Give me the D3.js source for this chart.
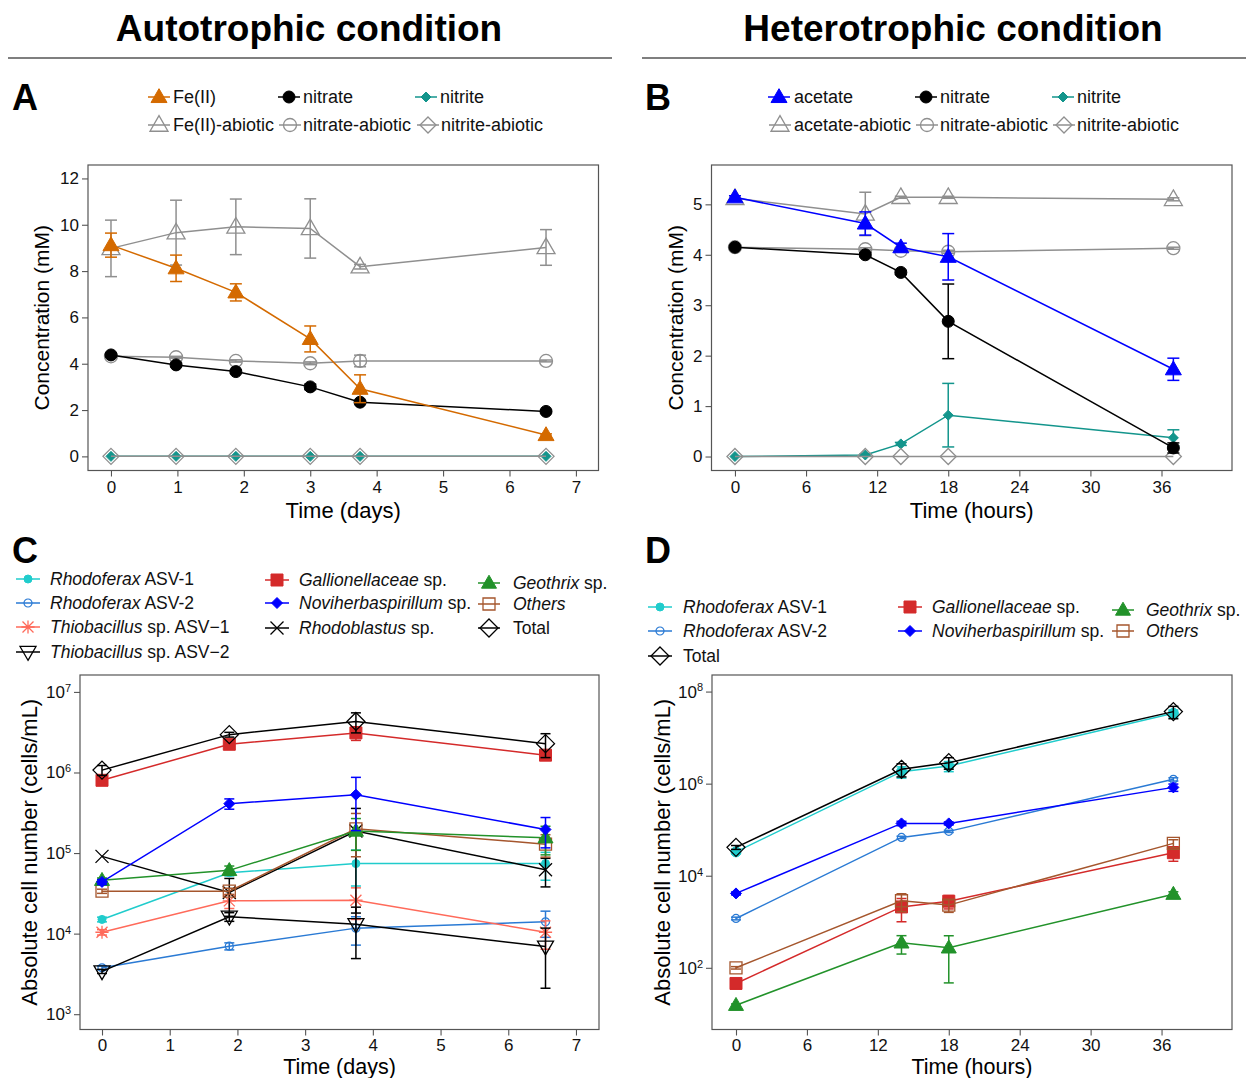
<!DOCTYPE html>
<html><head><meta charset="utf-8">
<script src="https://cdn.jsdelivr.net/npm/d3@7"></script>
<style>body{margin:0;background:#fff} text{font-family:"Liberation Sans",Arial,sans-serif}</style>
</head><body><svg id="c" width="1250" height="1078"></svg>
<script>
// ---------------- DATA ----------------
// Panel A (autotrophic, days)
const timeA = [0, 0.98, 1.88, 3.0, 3.75, 6.55];
const feII = [9.12, 8.12, 7.08, 5.07, 2.92, 0.92];
const feIISD = [0.52, 0.57, 0.37, 0.56, 0.6, 0.05];
const feIIAbiotic = [8.98, 9.66, 9.91, 9.84, 8.19, 9.02];
const feIIAbioticSD = [1.22, 1.4, 1.2, 1.28, 0.1, 0.77];
const nitrateA = [4.38, 3.95, 3.66, 3.0, 2.34, 1.94];
const nitrateASD = [0.08, 0.08, 0.07, 0.12, 0.06, 0.06];
const nitrateAAbiotic = [4.32, 4.28, 4.12, 4.02, 4.12, 4.12];
const nitrateAAbioticSD = [0.05, 0.04, 0.05, 0.06, 0.25, 0.04];
const nitriteA = [0, 0, 0, 0, 0, 0];
const nitriteAAbiotic = [0, 0, 0, 0, 0, 0];

// Panel B (heterotrophic, hours)
const timeB = [0, 11, 14, 18, 37];
const acetate = [5.14, 4.62, 4.15, 3.96, 1.73];
const acetateSD = [0.03, 0.23, 0.08, 0.46, 0.22];
const acetateAbiotic = [5.12, 4.81, 5.14, 5.14, 5.10];
const acetateAbioticSD = [0.02, 0.43, 0.02, 0.02, 0.03];
const nitrateB = [4.15, 4.0, 3.65, 2.68, 0.17];
const nitrateBSD = [0.03, 0.04, 0.04, 0.74, 0.1];
const nitrateBAbiotic = [4.15, 4.11, 4.08, 4.06, 4.13];
const nitrateBAbioticSD = [0.02, 0.03, 0.03, 0.03, 0.02];
const nitriteB = [0, 0.03, 0.25, 0.82, 0.37];
const nitriteBSD = [0, 0.02, 0.03, 0.63, 0.16];
const nitriteBAbiotic = [0, 0, 0, 0, 0];

// Panel C (autotrophic cell numbers, days)
const timeC = [0, 1.88, 3.75, 6.55];
const rhodoferax1C = [1.5e4, 5.7e4, 7.4e4, 7.4e4];
const rhodoferax1CSD = [1e3, 5e3, 3.5e4, 2.8e4];
const rhodoferax2C = [3.76e3, 6.98e3, 1.17e4, 1.4e4];
const rhodoferax2CSD = [2e2, 7e2, 4.5e3, 5e3];
const thiobacillus1C = [1.04e4, 2.55e4, 2.6e4, 1.04e4];
const thiobacillus1CSD = [8e2, 5e3, 1.1e4, 4e3];
const thiobacillus2C = [3.4e3, 1.62e4, 1.31e4, 6.9e3];
const thiobacillus2CSD = [2e2, 2e3, 8.2e3, 4.8e3];
const gallionellaceaeC = [8.0e5, 2.24e6, 3.1e6, 1.64e6];
const gallionellaceaeCSD = [5e4, 1.5e5, 6e5, 2e5];
const noviherbaspirillumC = [4.38e4, 4.1e5, 5.3e5, 1.96e5];
const noviherbaspirillumCSD = [3e3, 6e4, 3.4e5, 8e4];
const rhodoblastusC = [9.1e4, 3.24e4, 1.88e5, 6.2e4];
const rhodoblastusCSD = [0, 1.6e4, 1.7e5, 2.4e4];
const geothrixC = [4.6e4, 6.1e4, 1.88e5, 1.55e5];
const geothrixCSD = [3e3, 8e3, 8e4, 6e4];
const othersC = [3.36e4, 3.36e4, 2.0e5, 1.29e5];
const othersCSD = [2e3, 3e3, 1.1e5, 4e4];
const totalC = [1.07e6, 2.95e6, 4.3e6, 2.28e6];
const totalCSD = [1.5e5, 2e5, 1.2e6, 7.5e5];

// Panel D (heterotrophic cell numbers, hours)
const timeD = [0, 14, 18, 37];
const rhodoferax1D = [3.3e4, 1.82e6, 2.42e6, 3.38e7];
const rhodoferax1DSD = [3e3, 5e5, 6e5, 6e6];
const rhodoferax2D = [1.18e3, 6.8e4, 9.2e4, 1.24e6];
const rhodoferax2DSD = [80, 4e3, 5e3, 1e5];
const gallionellaceaeD = [45.7, 2.1e3, 2.8e3, 3.16e4];
const gallionellaceaeDSD = [4, 1.1e3, 9e2, 1.1e4];
const noviherbaspirillumD = [4.13e3, 1.37e5, 1.37e5, 8.3e5];
const noviherbaspirillumDSD = [3e2, 1.5e4, 1e4, 1.5e5];
const geothrixD = [15.4, 349, 272, 3.98e3];
const geothrixDSD = [1, 150, 225, 5e2];
const othersD = [100, 2.86e3, 2.3e3, 5.05e4];
const othersDSD = [6, 1.2e3, 7e2, 1e4];
const totalD = [4.13e4, 2.05e6, 2.86e6, 3.67e7];
const totalDSD = [4e3, 6.5e5, 8e5, 1.1e7];

// ticks
const ticksDays = [0, 1, 2, 3, 4, 5, 6, 7];
const ticksHours = [0, 6, 12, 18, 24, 30, 36];
const ticksConcA = [0, 2, 4, 6, 8, 10, 12];
const ticksConcB = [0, 1, 2, 3, 4, 5];
const ticksLogC = [1e3, 1e4, 1e5, 1e6, 1e7];
const ticksLogD = [1e2, 1e4, 1e6, 1e8];

// ---------------- STYLE ----------------
const GREY = '#8f8f8f', ORANGE = '#D46A00', TEAL = '#13958C', BLUE = '#0000FF';
const C_CYAN = '#20CCCC', C_BLUE2 = '#2A7AD4', C_SALMON = '#FF6A5A', C_RED = '#D42A2A',
      C_GREEN = '#22922A', C_BROWN = '#A5562D', BLACK = '#000';

const svg = d3.select('#c');
svg.append('rect').attr('width', 1250).attr('height', 1078).attr('fill', '#fff');

function shapePath(shape, r) {
  const h = r * Math.sqrt(3);
  switch (shape) {
    case 'circle': return `M${r},0A${r},${r} 0 1,1 ${-r},0A${r},${r} 0 1,1 ${r},0Z`;
    case 'square': return `M${-r},${-r}H${r}V${r}H${-r}Z`;
    case 'triUp': return `M0,${-h * 0.6}L${r},${h * 0.4}L${-r},${h * 0.4}Z`;
    case 'triDown': return `M0,${h * 0.6}L${r},${-h * 0.4}L${-r},${-h * 0.4}Z`;
    case 'diamond': return `M0,${-r}L${r},0L0,${r}L${-r},0Z`;
    case 'cross': return `M${-r},${-r}L${r},${r}M${-r},${r}L${r},${-r}`;
    case 'asterisk': return `M${-r},${-r}L${r},${r}M${-r},${r}L${r},${-r}M0,${-r * 1.2}V${r * 1.2}M${-r * 1.2},0H${r * 1.2}`;
  }
}
function drawMarker(g, cx, cy, st) {
  const p = g.append('path').attr('d', shapePath(st.shape, st.r))
    .attr('transform', `translate(${cx},${cy})`);
  if (st.fill) p.attr('fill', st.color).attr('stroke', st.color).attr('stroke-width', 1);
  else p.attr('fill', 'none').attr('stroke', st.color).attr('stroke-width', st.sw || 1.3);
}

function panel(o) {
  const x = d3.scaleLinear().domain(o.xdom).range([o.L, o.R]);
  const y = (o.log ? d3.scaleLog() : d3.scaleLinear()).domain(o.ydom).range([o.B, o.T]);
  const g = svg.append('g');
  // axes
  const xa = g.append('g').attr('transform', `translate(0,${o.B})`)
    .call(d3.axisBottom(x).tickValues(o.xticks).tickSize(6).tickSizeOuter(0).tickPadding(o.xpad));
  const ya = g.append('g').attr('transform', `translate(${o.L},0)`)
    .call(d3.axisLeft(y).tickValues(o.yticks).tickSize(6).tickSizeOuter(0).tickPadding(3)
      .tickFormat(o.log ? (() => '') : d3.format('d')));
  [xa, ya].forEach(a => {
    a.select('.domain').remove();
    a.selectAll('.tick line').attr('stroke', '#555').attr('stroke-width', 1.1);
    a.selectAll('.tick text').attr('font-size', 17).attr('fill', '#111')
      .style('font-family', '"Liberation Sans",Arial,sans-serif');
  });
  if (o.log) {
    ya.selectAll('.tick text').each(function (d) {
      const t = d3.select(this);
      t.append('tspan').text('10');
      t.append('tspan').attr('dy', '-0.55em').attr('font-size', 11).text(Math.round(Math.log10(d)));
    });
  }
  // box
  g.append('rect').attr('x', o.L).attr('y', o.T).attr('width', o.R - o.L).attr('height', o.B - o.T)
    .attr('fill', 'none').attr('stroke', '#555').attr('stroke-width', 1.2);
  // axis titles
  g.append('text').attr('x', (o.L + o.R) / 2).attr('y', o.xlabY).attr('text-anchor', 'middle')
    .attr('font-size', o.xlabSize).text(o.xlabel);
  g.append('text').attr('transform', `translate(${o.ylabX},${(o.T + o.B) / 2}) rotate(-90)`)
    .attr('text-anchor', 'middle').attr('font-size', o.ylabSize).text(o.ylabel);
  // series
  const capW = o.cap;
  o.series.forEach(st => {
    const xs = o.time;
    g.append('path').datum(st.y)
      .attr('d', d3.line().x((d, i) => x(xs[i])).y(d => y(d)))
      .attr('fill', 'none').attr('stroke', st.color).attr('stroke-width', st.lw || 1.5);
    if (st.sd) st.y.forEach((v, i) => {
      const s = st.sd[i];
      if (!s) return;
      const cx = x(xs[i]);
      const hi = Math.max(y(v + s), o.T);
      let lo = (o.log && v - s <= 0) ? o.B : y(v - s);
      lo = Math.min(lo, o.B);
      g.append('line').attr('x1', cx).attr('x2', cx).attr('y1', hi).attr('y2', lo)
        .attr('stroke', st.color).attr('stroke-width', 1.5);
      [hi, lo].forEach(yy => {
        if (yy >= o.B) return;
        g.append('line').attr('x1', cx - capW).attr('x2', cx + capW).attr('y1', yy).attr('y2', yy)
          .attr('stroke', st.color).attr('stroke-width', 1.5);
      });
    });
    st.y.forEach((v, i) => drawMarker(g, x(xs[i]), y(v), st));
  });
}

function legendEntry(cx, cy, half, st, textX, parts, fs) {
  const g = svg.append('g');
  g.append('line').attr('x1', cx - half).attr('x2', cx + half).attr('y1', cy).attr('y2', cy)
    .attr('stroke', st.color).attr('stroke-width', 1.5);
  drawMarker(g, cx, cy, st);
  const t = g.append('text').attr('x', textX).attr('y', cy + fs * 0.36).attr('font-size', fs).attr('fill', '#111');
  parts.forEach(p => t.append('tspan').attr('font-style', p[1] ? 'italic' : 'normal').text(p[0]));
}

// ---------------- HEADERS ----------------
[['Autotrophic condition', 309, 8, 612], ['Heterotrophic condition', 953, 642, 1246]].forEach(h => {
  svg.append('text').attr('x', h[1]).attr('y', 41).attr('text-anchor', 'middle')
    .attr('font-size', 37).attr('font-weight', 'bold').text(h[0]);
  svg.append('line').attr('x1', h[2]).attr('x2', h[3]).attr('y1', 58).attr('y2', 58)
    .attr('stroke', '#555').attr('stroke-width', 1.5);
});
[['A', 12, 110], ['B', 645, 110], ['C', 12, 563], ['D', 645, 563]].forEach(l => {
  svg.append('text').attr('x', l[1]).attr('y', l[2]).attr('font-size', 36).attr('font-weight', 'bold').text(l[0]);
});

// ---------------- STYLES PER SERIES ----------------
const sFe = {color: ORANGE, shape: 'triUp', r: 8, fill: true};
const sFeAb = {color: GREY, shape: 'triUp', r: 9, fill: false};
const sAc = {color: BLUE, shape: 'triUp', r: 8, fill: true};
const sAcAb = {color: GREY, shape: 'triUp', r: 9, fill: false};
const sNa = {color: BLACK, shape: 'circle', r: 6, fill: true};
const sNaAb = {color: GREY, shape: 'circle', r: 6.5, fill: false};
const sNi = {color: TEAL, shape: 'diamond', r: 5, fill: true};
const sNiAb = {color: GREY, shape: 'diamond', r: 8, fill: false};

// Panel A
panel({L: 88, R: 598.5, T: 165, B: 470.5, xdom: [-0.346, 7.34], ydom: [-0.61, 12.58],
  xticks: ticksDays, yticks: ticksConcA, time: timeA, cap: 6, xpad: 4.5,
  xlabel: 'Time (days)', xlabY: 518, xlabSize: 22, ylabel: 'Concentration (mM)', ylabX: 49, ylabSize: 21,
  series: [
    Object.assign({y: nitriteA}, sNi),
    Object.assign({y: nitriteAAbiotic}, sNiAb),
    Object.assign({y: feIIAbiotic, sd: feIIAbioticSD}, sFeAb),
    Object.assign({y: nitrateAAbiotic, sd: nitrateAAbioticSD}, sNaAb),
    Object.assign({y: nitrateA, sd: nitrateASD}, sNa),
    Object.assign({y: feII, sd: feIISD}, sFe)
  ]});

// Panel B
panel({L: 711.5, R: 1232, T: 165, B: 470.5, xdom: [-1.98, 41.95], ydom: [-0.277, 5.78],
  xticks: ticksHours, yticks: ticksConcB, time: timeB, cap: 6, xpad: 4.5,
  xlabel: 'Time (hours)', xlabY: 518, xlabSize: 22, ylabel: 'Concentration (mM)', ylabX: 683, ylabSize: 21,
  series: [
    Object.assign({y: nitriteB, sd: nitriteBSD}, sNi),
    Object.assign({y: nitriteBAbiotic}, sNiAb),
    Object.assign({y: acetateAbiotic, sd: acetateAbioticSD}, sAcAb),
    Object.assign({y: nitrateBAbiotic, sd: nitrateBAbioticSD}, sNaAb),
    Object.assign({y: nitrateB, sd: nitrateBSD}, sNa),
    Object.assign({y: acetate, sd: acetateSD}, sAc)
  ]});

// Legends A & B
legendEntry(159, 97, 11, sFe, 173, [['Fe(II)']], 18);
legendEntry(289, 97, 11, sNa, 303, [['nitrate']], 18);
legendEntry(426, 97, 11, sNi, 440, [['nitrite']], 18);
legendEntry(159, 125, 11, sFeAb, 173, [['Fe(II)-abiotic']], 18);
legendEntry(290, 125, 11, sNaAb, 303, [['nitrate-abiotic']], 18);
legendEntry(428, 125, 11, sNiAb, 441, [['nitrite-abiotic']], 18);

legendEntry(779, 97, 11, sAc, 794, [['acetate']], 18);
legendEntry(926, 97, 11, sNa, 940, [['nitrate']], 18);
legendEntry(1063, 97, 11, sNi, 1077, [['nitrite']], 18);
legendEntry(780, 125, 11, sAcAb, 794, [['acetate-abiotic']], 18);
legendEntry(927, 125, 11, sNaAb, 940, [['nitrate-abiotic']], 18);
legendEntry(1064, 125, 11, sNiAb, 1077, [['nitrite-abiotic']], 18);

// Cell styles
const sRh1 = {color: C_CYAN, shape: 'circle', r: 4, fill: true};
const sRh2 = {color: C_BLUE2, shape: 'circle', r: 4, fill: false, sw: 1.2};
const sTh1 = {color: C_SALMON, shape: 'asterisk', r: 5.5, fill: false};
const sTh2 = {color: BLACK, shape: 'triDown', r: 8, fill: false};
const sGal = {color: C_RED, shape: 'square', r: 6, fill: true};
const sNov = {color: BLUE, shape: 'diamond', r: 5.5, fill: true};
const sRhb = {color: BLACK, shape: 'cross', r: 6.5, fill: false};
const sGeo = {color: C_GREEN, shape: 'triUp', r: 7.5, fill: true};
const sOth = {color: C_BROWN, shape: 'square', r: 6, fill: false};
const sTot = {color: BLACK, shape: 'diamond', r: 9, fill: false};

// Panel C
panel({L: 80, R: 599, T: 675, B: 1029.5, log: true, xdom: [-0.325, 7.34], ydom: [Math.pow(10, 2.81), Math.pow(10, 7.21)],
  xticks: ticksDays, yticks: ticksLogC, time: timeC, cap: 5, xpad: 3,
  xlabel: 'Time (days)', xlabY: 1074, xlabSize: 21.5, ylabel: 'Absolute cell number (cells/mL)', ylabX: 37, ylabSize: 22,
  series: [
    Object.assign({y: rhodoferax2C, sd: rhodoferax2CSD}, sRh2),
    Object.assign({y: thiobacillus1C, sd: thiobacillus1CSD}, sTh1),
    Object.assign({y: thiobacillus2C, sd: thiobacillus2CSD}, sTh2),
    Object.assign({y: rhodoferax1C, sd: rhodoferax1CSD}, sRh1),
    Object.assign({y: rhodoblastusC, sd: rhodoblastusCSD}, sRhb),
    Object.assign({y: othersC, sd: othersCSD}, sOth),
    Object.assign({y: geothrixC, sd: geothrixCSD}, sGeo),
    Object.assign({y: noviherbaspirillumC, sd: noviherbaspirillumCSD}, sNov),
    Object.assign({y: gallionellaceaeC, sd: gallionellaceaeCSD}, sGal),
    Object.assign({y: totalC, sd: totalCSD}, sTot)
  ]});

// Panel D
panel({L: 712, R: 1232, T: 675, B: 1029.5, log: true, xdom: [-2.03, 41.96], ydom: [Math.pow(10, 0.66), Math.pow(10, 8.36)],
  xticks: ticksHours, yticks: ticksLogD, time: timeD, cap: 5, xpad: 3,
  xlabel: 'Time (hours)', xlabY: 1074, xlabSize: 21.5, ylabel: 'Absolute cell number (cells/mL)', ylabX: 670, ylabSize: 22,
  series: [
    Object.assign({y: geothrixD, sd: geothrixDSD}, sGeo),
    Object.assign({y: gallionellaceaeD, sd: gallionellaceaeDSD}, sGal),
    Object.assign({y: othersD, sd: othersDSD}, sOth),
    Object.assign({y: rhodoferax2D, sd: rhodoferax2DSD}, sRh2),
    Object.assign({y: noviherbaspirillumD, sd: noviherbaspirillumDSD}, sNov),
    Object.assign({y: rhodoferax1D, sd: rhodoferax1DSD}, Object.assign({}, sRh1, {r: 5})),
    Object.assign({y: totalD, sd: totalDSD}, sTot)
  ]});

// Legend C
const fsC = 17.5;
legendEntry(28, 579, 12, sRh1, 50, [['Rhodoferax', true], [' ASV-1']], fsC);
legendEntry(28, 603, 12, sRh2, 50, [['Rhodoferax', true], [' ASV-2']], fsC);
legendEntry(28, 627, 12, sTh1, 50, [['Thiobacillus', true], [' sp. ASV\u22121']], fsC);
legendEntry(28, 652, 12, sTh2, 50, [['Thiobacillus', true], [' sp. ASV\u22122']], fsC);
legendEntry(277, 580, 12, sGal, 299, [['Gallionellaceae', true], [' sp.']], fsC);
legendEntry(277, 603, 12, sNov, 299, [['Noviherbaspirillum', true], [' sp.']], fsC);
legendEntry(277, 628, 12, sRhb, 299, [['Rhodoblastus', true], [' sp.']], fsC);
legendEntry(489, 583, 11, sGeo, 513, [['Geothrix', true], [' sp.']], fsC);
legendEntry(489, 604, 11, sOth, 513, [['Others', true]], fsC);
legendEntry(489, 628, 11, sTot, 513, [['Total']], fsC);

// Legend D
legendEntry(660, 607, 12, sRh1, 683, [['Rhodoferax', true], [' ASV-1']], fsC);
legendEntry(660, 631, 12, sRh2, 683, [['Rhodoferax', true], [' ASV-2']], fsC);
legendEntry(660, 656, 12, sTot, 683, [['Total']], fsC);
legendEntry(910, 607, 12, sGal, 932, [['Gallionellaceae', true], [' sp.']], fsC);
legendEntry(910, 631, 12, sNov, 932, [['Noviherbaspirillum', true], [' sp.']], fsC);
legendEntry(1123, 610, 11, sGeo, 1146, [['Geothrix', true], [' sp.']], fsC);
legendEntry(1123, 631, 11, sOth, 1146, [['Others', true]], fsC);
</script>
</body></html>
